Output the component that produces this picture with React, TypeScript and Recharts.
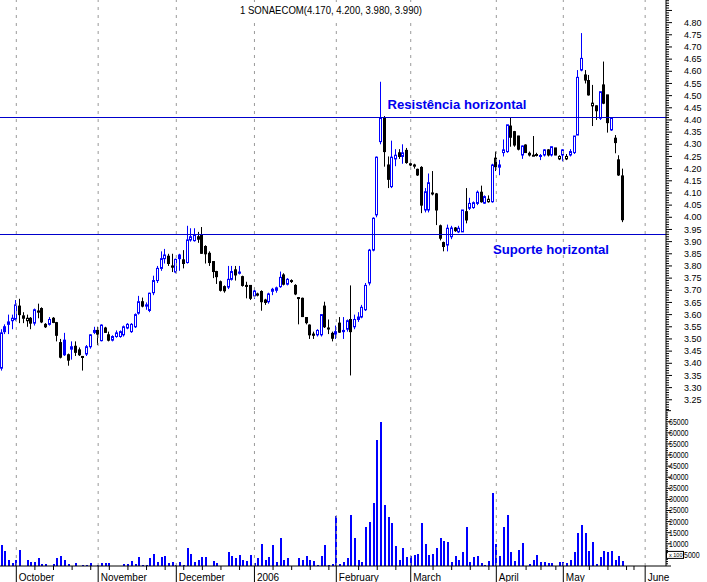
import React from 'react';
import { ComposedChart, BarChart, Bar, XAxis, YAxis, ReferenceLine } from 'recharts';

const openP = [
  3.38, 3.55, 3.56, 3.575, 3.58, 3.635, 3.585, 3.575, 3.585, 3.565,
  3.61, 3.625, 3.56, 3.56, 3.585, 3.567, 3.485, 3.495, 3.435, 3.458,
  3.47, 3.455, 3.425, 3.438, 3.468, 3.527, 3.535, 3.493, 3.545, 3.517,
  3.495, 3.51, 3.51, 3.517, 3.545, 3.53, 3.55, 3.606, 3.653, 3.635,
  3.617, 3.69, 3.74, 3.79, 3.83, 3.84, 3.80, 3.775, 3.845, 3.825,
  3.814, 3.907, 3.904, 3.92, 3.927, 3.88, 3.852, 3.818, 3.777, 3.735,
  3.715, 3.713, 3.745, 3.784, 3.77, 3.756, 3.72, 3.72, 3.677, 3.68,
  3.695, 3.66, 3.653, 3.696, 3.70, 3.715, 3.763, 3.725, 3.74, 3.72,
  3.67, 3.667, 3.588, 3.557, 3.52, 3.517, 3.517, 3.635, 3.545, 3.523,
  3.52, 3.565, 3.53, 3.54, 3.58, 3.55, 3.58, 3.59, 3.62, 3.73,
  3.865, 4.01, 4.311, 4.407, 4.215, 4.126, 4.24, 4.265, 4.25, 4.275,
  4.215, 4.21, 4.197, 4.205, 4.03, 4.03, 4.10, 4.096, 3.965, 3.896,
  3.886, 3.92, 3.956, 3.94, 3.94, 4.023, 4.037, 4.04, 4.057, 4.103,
  4.058, 4.064, 4.064, 4.243, 4.206, 4.266, 4.27, 4.375, 4.352, 4.334,
  4.256, 4.297, 4.256, 4.255, 4.258, 4.254, 4.256, 4.277, 4.256, 4.285,
  4.24, 4.256, 4.24, 4.256, 4.266, 4.338, 4.605, 4.585, 4.562, 4.458,
  4.458, 4.407, 4.544, 4.503, 4.359, 4.325, 4.236, 4.17,
];
const highP = [
  3.54, 3.56, 3.60, 3.60, 3.66, 3.665, 3.61, 3.60, 3.59, 3.625,
  3.645, 3.63, 3.565, 3.59, 3.59, 3.57, 3.50, 3.525, 3.44, 3.49,
  3.49, 3.465, 3.43, 3.475, 3.52, 3.55, 3.55, 3.56, 3.55, 3.53,
  3.515, 3.535, 3.535, 3.555, 3.565, 3.565, 3.605, 3.677, 3.67, 3.65,
  3.69, 3.76, 3.80, 3.86, 3.87, 3.85, 3.85, 3.83, 3.85, 3.865,
  3.965, 3.955, 3.955, 3.94, 3.96, 3.885, 3.86, 3.82, 3.78, 3.74,
  3.72, 3.80, 3.80, 3.80, 3.80, 3.76, 3.735, 3.72, 3.71, 3.69,
  3.70, 3.665, 3.69, 3.71, 3.715, 3.777, 3.77, 3.75, 3.745, 3.725,
  3.672, 3.67, 3.59, 3.56, 3.53, 3.54, 3.60, 3.653, 3.58, 3.53,
  3.555, 3.59, 3.59, 3.58, 3.72, 3.60, 3.61, 3.64, 3.73, 3.87,
  4.00, 4.25, 4.557, 4.416, 4.25, 4.315, 4.28, 4.28, 4.30, 4.285,
  4.225, 4.22, 4.20, 4.21, 4.12, 4.18, 4.19, 4.10, 3.97, 3.90,
  3.97, 3.965, 3.96, 3.965, 4.03, 4.12, 4.08, 4.065, 4.11, 4.13,
  4.09, 4.09, 4.22, 4.27, 4.236, 4.32, 4.38, 4.411, 4.355, 4.335,
  4.295, 4.30, 4.27, 4.334, 4.265, 4.26, 4.28, 4.28, 4.29, 4.285,
  4.255, 4.28, 4.26, 4.28, 4.334, 4.605, 4.757, 4.605, 4.585, 4.544,
  4.46, 4.516, 4.64, 4.503, 4.41, 4.338, 4.255, 4.20,
];
const lowP = [
  3.37, 3.52, 3.52, 3.54, 3.575, 3.565, 3.565, 3.55, 3.54, 3.555,
  3.585, 3.565, 3.545, 3.555, 3.565, 3.49, 3.42, 3.43, 3.39, 3.415,
  3.43, 3.43, 3.37, 3.43, 3.46, 3.52, 3.475, 3.49, 3.525, 3.49,
  3.49, 3.505, 3.505, 3.51, 3.54, 3.525, 3.545, 3.60, 3.63, 3.62,
  3.61, 3.68, 3.73, 3.78, 3.81, 3.80, 3.775, 3.77, 3.78, 3.79,
  3.81, 3.90, 3.90, 3.895, 3.85, 3.81, 3.80, 3.75, 3.726, 3.695,
  3.69, 3.705, 3.74, 3.74, 3.765, 3.715, 3.667, 3.66, 3.665, 3.675,
  3.616, 3.64, 3.645, 3.68, 3.69, 3.71, 3.72, 3.72, 3.73, 3.68,
  3.56, 3.59, 3.56, 3.50, 3.50, 3.51, 3.51, 3.545, 3.52, 3.49,
  3.50, 3.525, 3.50, 3.53, 3.35, 3.54, 3.57, 3.585, 3.615, 3.72,
  3.86, 4.00, 4.30, 4.208, 4.12, 4.12, 4.21, 4.24, 4.22, 4.22,
  4.21, 4.20, 4.17, 4.017, 4.02, 4.02, 4.09, 3.968, 3.905, 3.86,
  3.86, 3.91, 3.94, 3.935, 3.94, 3.975, 4.03, 4.035, 4.05, 4.06,
  4.055, 4.06, 4.06, 4.19, 4.173, 4.25, 4.265, 4.29, 4.29, 4.275,
  4.24, 4.265, 4.25, 4.252, 4.25, 4.235, 4.25, 4.25, 4.25, 4.255,
  4.235, 4.23, 4.235, 4.25, 4.26, 4.338, 4.60, 4.55, 4.50, 4.375,
  4.40, 4.40, 4.465, 4.348, 4.355, 4.263, 4.17, 3.98,
];
const closeP = [
  3.525, 3.53, 3.57, 3.585, 3.64, 3.60, 3.595, 3.585, 3.565, 3.62,
  3.615, 3.57, 3.55, 3.58, 3.568, 3.515, 3.425, 3.435, 3.413, 3.468,
  3.445, 3.435, 3.428, 3.468, 3.517, 3.535, 3.52, 3.557, 3.527, 3.495,
  3.51, 3.525, 3.53, 3.55, 3.56, 3.56, 3.60, 3.653, 3.635, 3.64,
  3.688, 3.74, 3.79, 3.83, 3.845, 3.81, 3.795, 3.827, 3.83, 3.81,
  3.907, 3.92, 3.927, 3.91, 3.852, 3.85, 3.814, 3.777, 3.756, 3.70,
  3.698, 3.745, 3.777, 3.763, 3.775, 3.72, 3.718, 3.667, 3.697, 3.685,
  3.653, 3.65, 3.685, 3.704, 3.71, 3.753, 3.725, 3.745, 3.738, 3.685,
  3.668, 3.592, 3.567, 3.517, 3.515, 3.535, 3.60, 3.55, 3.545, 3.503,
  3.53, 3.528, 3.535, 3.575, 3.53, 3.58, 3.59, 3.63, 3.72, 3.865,
  3.996, 4.247, 4.407, 4.27, 4.156, 4.247, 4.255, 4.25, 4.265, 4.225,
  4.22, 4.215, 4.174, 4.05, 4.105, 4.142, 4.10, 4.03, 3.914, 3.88,
  3.955, 3.956, 3.945, 3.955, 4.03, 3.989, 4.057, 4.06, 4.103, 4.064,
  4.085, 4.074, 4.215, 4.208, 4.215, 4.277, 4.38, 4.329, 4.297, 4.28,
  4.293, 4.266, 4.263, 4.255, 4.254, 4.254, 4.277, 4.256, 4.29, 4.256,
  4.25, 4.277, 4.25, 4.27, 4.334, 4.575, 4.653, 4.564, 4.503, 4.469,
  4.438, 4.516, 4.469, 4.389, 4.407, 4.307, 4.174, 3.99,
];
const volume = [
  9240, 6540, 2900, 1500, 2900, 7000, 0, 2900, 2000, 2000,
  3400, 1000, 1000, 0, 1000, 3400, 4700, 2900, 1000, 0,
  1500, 0, 500, 500, 1500, 0, 500, 1500, 1500, 1500,
  0, 0, 0, 1000, 1000, 2300, 1000, 3900, 500, 500,
  3400, 5600, 2000, 3900, 4400, 1500, 2000, 500, 2000, 500,
  8100, 5600, 2000, 2900, 3900, 3900, 0, 2300, 1500, 0,
  0, 6300, 4700, 3400, 5000, 2900, 2300, 5000, 1500, 3400,
  9700, 2900, 3900, 9240, 2000, 12400, 2900, 3400, 0, 0,
  3400, 2900, 4700, 2900, 2300, 500, 4700, 9240, 500, 1000,
  22700, 1000, 2000, 3400, 23200, 12400, 2900, 2000, 17400, 20000,
  28200, 56600, 65100, 27300, 21900, 19200, 8800, 2900, 7900, 3900,
  4400, 5000, 5600, 19600, 9700, 5000, 5600, 7900, 12800, 11300,
  10800, 2000, 4400, 2900, 6200, 17400, 2000, 3900, 4700, 1500,
  500, 2300, 32700, 9700, 4400, 17400, 23200, 6200, 2300, 7200,
  10200, 0, 1000, 2900, 5000, 2000, 2000, 1500, 1500, 0,
  2000, 2000, 1500, 2900, 6200, 14700, 18300, 15000, 6600, 10800,
  1000, 3900, 6800, 6200, 6800, 2900, 4400, 2300,
];

const monthStarts = [4, 26, 47, 68, 90, 110, 133, 151, 173];
const monthLabels = ['October', 'November', 'December', '2006', 'February', 'March', 'April', 'May', 'June'];
const weekTicks = [9, 14, 19, 24, 29, 34, 39, 44, 49, 54, 59, 64, 73, 78, 83, 88, 96, 101, 106, 116, 121, 126, 131, 141, 145, 149, 158, 163, 168, 170];
const priceLabels = ['3.25','3.30','3.35','3.40','3.45','3.50','3.55','3.60','3.65','3.70','3.75','3.80','3.85','3.90','3.95','4.00','4.05','4.10','4.15','4.20','4.25','4.30','4.35','4.40','4.45','4.50','4.55','4.60','4.65','4.70','4.75','4.80'];
const volumeLabels = ['5000','10000','15000','20000','25000','30000','35000','40000','45000','50000','55000','60000','65000'];
const resistanceLevel = 4.41;
const supportLevel = 3.929;
const titleText = '1 SONAECOM(4.170, 4.200, 3.980, 3.990)';
const resistanceText = 'Resistência horizontal';
const supportText = 'Suporte horizontal';

const FONT = '"Liberation Sans", Arial, sans-serif';
const BLUE = '#0000ff';
const X_DOMAIN: [number, number] = [-0.38, 178.6];
const PRICE_DOMAIN: [number, number] = [3.208, 4.893];
const VOL_DOMAIN: [number, number] = [0, 70300];

const data = openP.map((o, i) => ({
  i,
  o,
  h: highP[i],
  l: lowP[i],
  c: closeP[i],
  pc: i > 0 ? closeP[i - 1] : o,
  range: [lowP[i], highP[i]],
  v: volume[i],
}));

const priceTicks: number[] = [];
for (let k = 321; k <= 489; k++) priceTicks.push(k / 100);
const volTicks: number[] = [];
for (let k = 0; k <= 70; k++) volTicks.push(k * 1000);
const xTicks = [...monthStarts, ...weekTicks].sort((a, b) => a - b);

const Candle = (props: any) => {
  const { x, y, width, height, index } = props;
  const d = props.payload && props.payload.o !== undefined ? props.payload : data[index];
  if (!d || height === undefined) return null;
  const { o, h, l, c, pc } = d;
  const cx = Math.floor(x + width / 2) + 0.5;
  const k = height / (h - l);
  const yOf = (p: number) => y + (h - p) * k;
  const color = c >= pc ? BLUE : '#000000';
  const filled = c < o;
  const top = yOf(Math.max(o, c));
  const bot = yOf(Math.min(o, c));
  const bh = Math.max(bot - top, 1);
  return (
    <g>
      <line x1={cx} x2={cx} y1={y} y2={y + height} stroke={color} strokeWidth={1} />
      <rect x={cx - 1} y={top} width={2} height={bh} fill={filled ? color : '#ffffff'} stroke={color} strokeWidth={1} />
    </g>
  );
};

const VolBar = (props: any) => {
  const { x, y, width, height } = props;
  if (!height || height <= 0) return null;
  const cx = Math.round(x + width / 2);
  return <rect x={cx - 1} y={y} width={2} height={height} fill={BLUE} shapeRendering="crispEdges" />;
};

const PriceTick = (props: any) => {
  const { x, y, payload } = props;
  const v = payload.value as number;
  const label = v.toFixed(2);
  const major = Math.abs(v * 20 - Math.round(v * 20)) < 1e-6;
  const show = major && priceLabels.includes(label);
  return (
    <g>
      <line x1={x} x2={x + (major ? 6 : 3)} y1={y} y2={y} stroke="#000" strokeWidth={1} />
      {show && (
        <text x={x + 18} y={y} dy="0.35em" fontSize={9} fontFamily={FONT} fill="#000">
          {label}
        </text>
      )}
    </g>
  );
};

const VolTick = (props: any) => {
  const { x, y, payload } = props;
  const v = payload.value as number;
  const label = String(v);
  const major = v % 5000 === 0;
  const show = major && volumeLabels.includes(label);
  const isFirst = label === volumeLabels[0];
  return (
    <g>
      <line x1={x} x2={x + (major ? 5 : 2)} y1={y} y2={y} stroke="#000" strokeWidth={1} />
      {isFirst && (
        <g>
          <rect x={x + 0.5} y={y - 3.5} width={17} height={7} fill="#fff" stroke="#000" strokeWidth={1} />
          <text x={x + 3} y={y + 2} fontSize={5.5} fontFamily={FONT} fill="#000">x 100</text>
        </g>
      )}
      {show && (
        <text
          x={x + (isFirst ? 18 : 3)}
          y={y}
          dy="0.35em"
          fontSize={8.5}
          fontFamily={FONT}
          fill="#000"
          textLength={label.length * 3.9}
          lengthAdjust="spacingAndGlyphs"
        >
          {label}
        </text>
      )}
    </g>
  );
};

const XTick = (props: any) => {
  const { x, y, payload } = props;
  const v = payload.value as number;
  const mi = monthStarts.indexOf(v);
  if (mi >= 0) {
    return (
      <g>
        <line x1={x} x2={x} y1={y} y2={y + 16} stroke="#000" strokeWidth={1} />
        <text x={x + 2.5} y={y + 14.5} fontSize={10} fontFamily={FONT} fill="#000">
          {monthLabels[mi]}
        </text>
      </g>
    );
  }
  return <line x1={x} x2={x} y1={y} y2={y + 4} stroke="#000" strokeWidth={1} />;
};

const AnnotLabel = (props: any) => {
  const vb = props.viewBox || {};
  const ly = vb.y !== undefined ? vb.y : 0;
  return (
    <text
      x={props.ax}
      y={ly + props.dyOff}
      fontSize={12}
      fontWeight="bold"
      fontFamily={FONT}
      fill="#0000ee"
      textLength={props.tl}
      lengthAdjust="spacingAndGlyphs"
    >
      {props.text}
    </text>
  );
};

export default function App() {
  return (
    <div style={{ position: 'absolute', left: 0, top: 0, width: 707, height: 582, background: '#fff', overflow: 'hidden' }}>
      <div style={{ position: 'absolute', left: 0, top: 0 }}>
        <ComposedChart width={707} height={410} data={data} margin={{ top: 0, right: 0, bottom: 0, left: 0 }}>
          <XAxis dataKey="i" type="number" domain={X_DOMAIN} allowDataOverflow hide />
          <YAxis
            orientation="right"
            width={41}
            type="number"
            domain={PRICE_DOMAIN}
            allowDataOverflow
            ticks={priceTicks}
            interval={0}
            tickSize={0}
            tickMargin={0}
            tickLine={false}
            axisLine={{ stroke: '#000' }}
            tick={<PriceTick />}
          />
          {monthStarts.map((m) => (
            <ReferenceLine key={'p' + m} x={m} stroke="#9a9a9a" strokeDasharray="3 5" />
          ))}
          <ReferenceLine
            y={resistanceLevel}
            stroke="#0000cc"
            shapeRendering="crispEdges"
            label={<AnnotLabel text={resistanceText} ax={387.5} dyOff={-9} tl={139} />}
          />
          <ReferenceLine
            y={supportLevel}
            stroke="#0000cc"
            shapeRendering="crispEdges"
            label={<AnnotLabel text={supportText} ax={493} dyOff={19.5} tl={116} />}
          />
          <Bar dataKey="range" barSize={3} shape={<Candle />} isAnimationActive={false} />
        </ComposedChart>
      </div>
      <div style={{ position: 'absolute', left: 0, top: 410 }}>
        <BarChart width={707} height={172} data={data} margin={{ top: 0, right: 0, bottom: 0, left: 0 }}>
          <XAxis
            dataKey="i"
            type="number"
            domain={X_DOMAIN}
            allowDataOverflow
            ticks={xTicks}
            interval={0}
            height={16}
            tickSize={0}
            tickMargin={0}
            tickLine={false}
            axisLine={{ stroke: '#000' }}
            tick={<XTick />}
          />
          <YAxis
            orientation="right"
            width={41}
            type="number"
            domain={VOL_DOMAIN}
            allowDataOverflow
            ticks={volTicks}
            interval={0}
            tickSize={0}
            tickMargin={0}
            tickLine={false}
            axisLine={{ stroke: '#000' }}
            tick={<VolTick />}
          />
          {monthStarts.map((m) => (
            <ReferenceLine key={'v' + m} x={m} stroke="#9a9a9a" strokeDasharray="3 5" />
          ))}
          <Bar dataKey="v" barSize={2} shape={<VolBar />} isAnimationActive={false} />
        </BarChart>
      </div>
      <svg style={{ position: 'absolute', left: 0, top: 0, pointerEvents: 'none' }} width={707} height={22}>
        <rect x={238} y={2} width={188} height={16} fill="#ffffff" />
        <text x={240} y={14} fontSize={10.5} fontFamily={FONT} fill="#000" textLength={182} lengthAdjust="spacingAndGlyphs">
          {titleText}
        </text>
      </svg>
    </div>
  );
}
